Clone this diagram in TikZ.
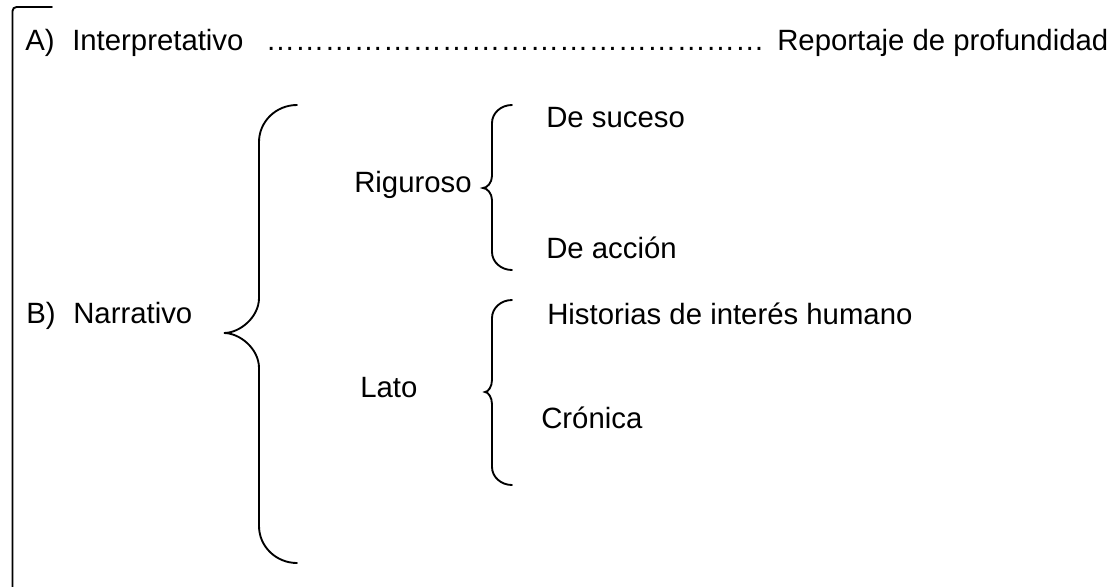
\documentclass[tikz,border=0pt]{standalone}
\usepackage{fontspec}
\setmainfont{Liberation Sans}
\usepackage{tikz}

% llave: xe, xv, xpunta, yarriba, ymedio, yabajo, rextremo, rmedio
\newcommand{\llave}[8]{%
	\draw[linea] (#1,#4) .. controls ({#2+0.448*(#1-#2)},#4) and (#2,{#4+0.448*#7}) .. (#2,#4+#7)
		-- (#2,#5-#8) .. controls (#2,{#5-0.448*#8}) and ({#3+0.448*(#2-#3)},#5) .. (#3,#5)
		.. controls ({#3+0.448*(#2-#3)},#5) and (#2,{#5+0.448*#8}) .. (#2,#5+#8)
		-- (#2,#6-#7) .. controls (#2,{#6-0.448*#7}) and ({#2+0.448*(#1-#2)},#6) .. (#1,#6);
}

\tikzset{
	texto/.style={anchor=base west, inner sep=0pt, font=\fontsize{22}{26}\selectfont},
	linea/.style={line width=1.4pt, line cap=round}
}

\begin{document}
\begin{tikzpicture}[x=0.75pt, y=-0.75pt]
			\useasboundingbox (0,0) rectangle (1113,586);
			% marco
			\draw[linea, rounded corners=3pt] (52,7) -- (12.5,7) -- (12.5,590);
			% fila A
			\node[texto] (letraA) at (25,50) {A)};
			\node[texto] (interp) at (72,50) {Interpretativo};
			\node[texto] (puntos) at (265.6,50) {\foreach \i in {1,...,17}{…}};
			\node[texto] (report) at (777,50) {Reportaje de profundidad};
			% fila B
			\node[texto] (letraB) at (26,323) {B)};
			\node[texto] (narrat) at (73,323) {Narrativo};
			\node[texto] (rigur) at (354,192) {Riguroso};
			\node[texto] (lato) at (360,397) {Lato};
			\node[texto] (suceso) at (546,127) {De suceso};
			\node[texto] (accion) at (546,258) {De acción};
			\node[texto] (histor) at (547,324) {Historias de interés humano};
			\node[texto] (cronica) at (541,428) {Crónica};
			% llaves
			\llave{297}{259}{224}{105}{333}{563}{37}{35}
			\llave{512}{492}{483}{105}{188}{270}{18}{12}
			\llave{512}{492}{485}{300}{392}{485}{18}{12}
		\end{tikzpicture}
\end{document}
